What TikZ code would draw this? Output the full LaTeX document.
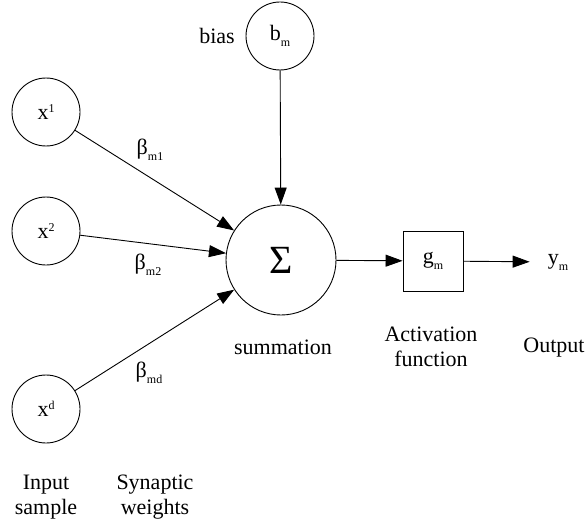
\documentclass[tikz,border=0pt]{standalone}
\usepackage{fontspec}
\setmainfont{Liberation Serif}
\usepackage{tikz}
\usetikzlibrary{arrows.meta}
\newcommand{\subtxt}[1]{\raisebox{-6pt}{\fontsize{12}{12}\selectfont #1}}
\newcommand{\suptxt}[1]{\raisebox{7pt}{\fontsize{12}{12}\selectfont #1}}

\begin{document}
\begin{tikzpicture}[x=1pt,y=-1pt,
  font=\fontsize{22}{25}\selectfont,
  unit/.style={circle,draw,line width=0.9pt,minimum size=68pt,inner sep=0pt},
  sumnode/.style={circle,draw,line width=0.9pt,minimum size=110pt,inner sep=0pt},
  actbox/.style={rectangle,draw,line width=0.9pt,minimum size=60pt,inner sep=0pt},
  caption/.style={align=center,inner sep=0pt},
  link/.style={line width=0.9pt,-{Triangle[length=17pt,width=12pt]}}]
\useasboundingbox (0,0) rectangle (588,524);
\node[unit] (bm) at (280,36) {b\subtxt{m}};
\node[inner sep=0pt] (bias) at (217,36) {bias};
\node[unit] (x1) at (46,112) {x\suptxt{1}};
\node[unit] (x2) at (46,231) {x\suptxt{2}};
\node[unit] (xd) at (46,409) {x\suptxt{d}};
\node[sumnode] (sum) at (281,260) {\fontsize{40}{40}\selectfont Σ};
\node[actbox] (gm) at (433,261) {g\subtxt{m}};
\node[inner xsep=18pt,inner ysep=0pt] (ym) at (558,262) {y\subtxt{m}};
\node[inner sep=0pt] (b1) at (150,150) {β\subtxt{m1}};
\node[inner sep=0pt] (b2) at (148,265) {β\subtxt{m2}};
\node[inner sep=0pt] (bd) at (149,373) {β\subtxt{md}};
\node[caption] (summ) at (283,347) {summation};
\node[caption] (act) at (431,347) {Activation\\function};
\node[caption] (out) at (554,348) {Output};
\node[caption] (inp) at (46,497) {Input\\sample};
\node[caption] (syn) at (155,497) {Synaptic\\weights};
\draw[link] (bm) -- (sum);
\draw[link] (x1) -- (sum);
\draw[link] (x2) -- (sum);
\draw[link] (xd) -- (sum);
\draw[link] (sum) -- (gm);
\draw[link] (gm) -- (ym);
\end{tikzpicture}
\end{document}
